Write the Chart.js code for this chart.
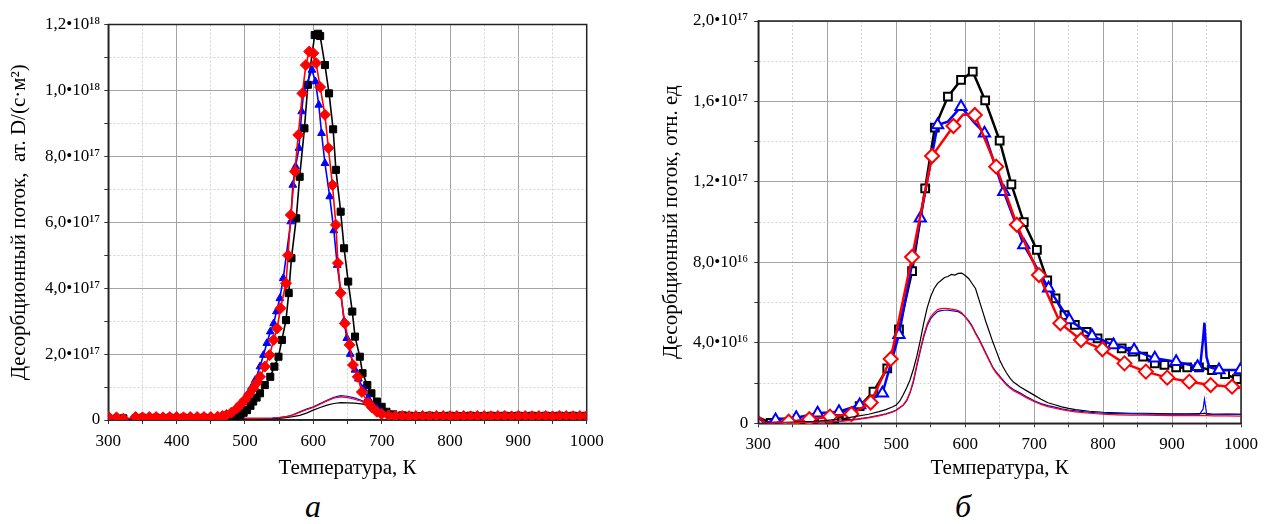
<!DOCTYPE html>
<html>
<head>
<meta charset="utf-8">
<script src="https://cdn.jsdelivr.net/npm/chart.js@4.4.0/dist/chart.umd.min.js"></script>
<style>
    body { margin: 0; background: #fff; width: 1265px; height: 524px; overflow: hidden; position: relative; }
    canvas { position: absolute; top: 0; }
    #chartA { left: 0; }
    #chartB { left: 640px; }
    .panel { position: absolute; top: 488px; font-family: 'Liberation Serif', serif; font-style: italic; font-size: 32px; line-height: 36px; transform: translateX(-50%); }
</style>
</head>
<body>
<canvas id="chartA" width="620" height="482"></canvas>
<canvas id="chartB" width="625" height="482"></canvas>
<div class="panel" style="left:313px">а</div>
<div class="panel" style="left:963px">б</div>
<script>
// ---- axes ----
const xTickValues = [300, 400, 500, 600, 700, 800, 900, 1000];
const leftYTickValues = [0, 2, 4, 6, 8, 10, 12];           // units of 1e17
const leftYTickLabels = ['0', '2,0•10¹⁷', '4,0•10¹⁷', '6,0•10¹⁷', '8,0•10¹⁷', '1,0•10¹⁸', '1,2•10¹⁸'];
const rightYTickValues = [0, 4, 8, 12, 16, 20];            // units of 1e16
const rightYTickLabels = ['0', '4,0•10¹⁶', '8,0•10¹⁶', '1,2•10¹⁷', '1,6•10¹⁷', '2,0•10¹⁷'];

// ---- chart а: [T, flux / 1e17] ----
const leftBlack = [[300,0.06],[310,0.03],[322,0.05],[330,null],[340,0.06],[350,0.07],[360,0.06],[370,0.07],[380,0.06],[390,0.07],
    [400,0.06],[410,0.07],[420,0.06],[430,0.06],[440,0.07],[450,0.06],[460,0.06],[470,0.06],[480,0.07],[487,0.10],[493,0.15],
    [498,0.22],[503,0.30],[508,0.43],[512,0.56],[517,0.68],[522,0.81],[529,1.06],[537,1.31],[543,1.62],[549,1.92],[554,2.43],
    [560,3.03],[564,3.85],[568,4.91],[575,6.12],[580,7.38],[587,8.85],[592,10.17],[602,11.68],[607,11.72],[610,11.65],[617,10.77],
    [623,9.91],[629,8.82],[633,7.59],[640,6.32],[645,5.21],[651,4.20],[657,3.29],[661,2.53],[668,1.92],[672,1.42],[679,1.06],
    [685,0.81],[693,0.56],[700,0.40],[707,0.25],[717,0.17],[730,0.14],[740,0.13],[750,0.12],[760,0.12],[770,0.13],[780,0.12],
    [790,0.12],[800,0.13],[810,0.12],[820,0.12],[830,0.13],[840,0.12],[850,0.12],[860,0.13],[870,0.12],[880,0.13],[890,0.12],
    [900,0.13],[910,0.12],[920,0.13],[930,0.12],[940,0.13],[950,0.12],[960,0.13],[970,0.12],[980,0.13],[990,0.12],[1000,0.13]];
const leftBlue = [[300,0.08],[310,0.05],[322,0.04],[330,null],[340,0.08],[350,0.08],[360,0.09],[370,0.08],[380,0.08],[390,0.09],
    [400,0.08],[410,0.08],[420,0.09],[430,0.08],[440,0.09],[450,0.10],[460,0.12],[468,0.13],[474,0.16],[481,0.20],[487,0.33],
    [493,0.46],[499,0.62],[505,0.81],[510,1.00],[515,1.21],[522,1.62],[527,1.97],[532,2.33],[537,2.68],[542,2.93],[546,3.29],
    [551,3.69],[556,4.30],[567,6.02],[570,7.13],[574,7.69],[579,8.25],[583,9.36],[586,9.96],[598,10.62],[603,10.27],[608,9.56],
    [612,8.70],[617,7.79],[624,6.78],[630,5.75],[635,4.70],[640,3.90],[645,3.00],[649,2.48],[654,2.00],[661,1.52],[666,1.25],
    [673,0.95],[680,0.66],[686,0.45],[693,0.35],[700,0.25],[710,0.18],[720,0.15],[730,0.13],[740,0.14],[750,0.13],[760,0.14],
    [770,0.13],[780,0.14],[790,0.13],[800,0.14],[810,0.13],[820,0.14],[830,0.13],[840,0.14],[850,0.13],[860,0.14],[870,0.13],
    [880,0.14],[890,0.13],[900,0.14],[910,0.13],[920,0.14],[930,0.13],[940,0.14],[950,0.13],[960,0.14],[970,0.13],[980,0.14],
    [990,0.13],[1000,0.14]];
const leftRed = [[300,0.10],[312,0.08],[322,0.04],[330,null],[340,0.09],[350,0.08],[360,0.09],[370,0.09],[380,0.08],[390,0.09],
    [400,0.09],[410,0.08],[420,0.09],[430,0.09],[440,0.09],[450,0.09],[460,0.10],[467,0.12],[473,0.15],[480,0.22],[488,0.35],
    [494,0.48],[500,0.61],[506,0.78],[512,0.96],[517,1.12],[522,1.31],[529,1.62],[536,1.97],[542,2.43],[547,2.78],[552,3.39],
    [560,4.15],[563,5.00],[567,6.22],[573,7.54],[578,8.65],[584,9.91],[589,10.77],[594,11.18],[600,11.13],[604,10.83],[610,10.10],
    [617,9.26],[622,8.25],[628,7.13],[633,5.92],[636,4.76],[640,3.85],[646,2.93],[653,2.28],[658,1.67],[665,1.31],[671,0.85],
    [680,0.52],[686,0.38],[693,0.25],[700,0.18],[710,0.14],[720,0.12],[730,0.12],[740,0.11],[750,0.12],[760,0.12],[770,0.11],
    [780,0.12],[790,0.12],[800,0.11],[810,0.12],[820,0.12],[830,0.11],[840,0.12],[850,0.12],[860,0.11],[870,0.12],[880,0.12],
    [890,0.11],[900,0.12],[910,0.12],[920,0.11],[930,0.12],[940,0.12],[950,0.11],[960,0.12],[970,0.12],[980,0.11],[990,0.12],
    [1000,0.12]];
const leftThinT = [300,350,400,450,500,520,540,550,560,570,580,590,600,610,620,630,640,650,660,670,680,690,700,710,720,740,760,800,850,900,950,1000];
const leftThinBlack = [0.03,0.03,0.03,0.03,0.03,0.03,0.04,0.05,0.07,0.10,0.14,0.21,0.30,0.38,0.45,0.50,0.53,0.52,0.51,0.49,0.45,0.38,0.30,0.22,0.18,0.15,0.13,0.12,0.12,0.12,0.12,0.12];
const leftThinBlue = [0.05,0.05,0.05,0.05,0.05,0.05,0.06,0.07,0.10,0.16,0.25,0.33,0.40,0.50,0.60,0.69,0.74,0.72,0.67,0.60,0.52,0.42,0.33,0.25,0.20,0.16,0.14,0.13,0.13,0.13,0.13,0.13];
const leftThinRed = [0.05,0.05,0.05,0.05,0.05,0.05,0.06,0.07,0.10,0.15,0.23,0.31,0.38,0.48,0.58,0.66,0.70,0.68,0.63,0.57,0.49,0.40,0.31,0.24,0.19,0.15,0.13,0.12,0.12,0.12,0.12,0.12];

// ---- chart б: [T, flux / 1e16]; *Marks carry symbols, *Line are line-only points ----
const rightBlackMarks = [[318,0.02],[336,0.05],[355,0.08],[373,0.10],[392,0.15],[410,0.25],[428,0.40],[447,0.85],[467,1.57],
    [487,2.73],[504,4.67],[523,7.56],[542,11.68],[556,14.70],[575,16.24],[594,17.07],[611,17.48],[629,16.05],[650,14.05],
    [667,11.88],[685,10.00],[704,8.62],[719,7.10],[731,6.21],[744,5.38],[759,4.89],[776,4.55],[792,4.22],[810,3.98],[827,3.73],
    [843,3.56],[858,3.31],[875,2.98],[889,2.90],[906,2.78],[922,2.78],[939,2.78],[958,2.65],[977,2.45],[994,2.20]];
const rightBlackLine = [[300,0.30],[1000,2.20]];
const rightBlueMarks = [[325,0.16],[355,0.28],[386,0.50],[417,0.58],[447,0.91],[480,1.49],[504,4.40],[535,10.19],[560,14.83],
    [594,15.74],[628,14.42],[656,11.51],[685,8.86],[721,6.71],[751,5.14],[784,4.34],[815,3.89],[845,3.64],[875,3.23],[906,3.06],
    [937,2.81],[968,2.65],[999,2.65]];
const rightBlueLine = [[300,0.30],[310,0.00],[575,15.00],[612,15.00],[941,2.90],[945,4.20],[947,5.00],[950,3.30],[954,2.80]];
const rightRedMarks = [[344,0.08],[374,0.20],[404,0.33],[435,0.46],[463,1.03],[492,3.20],[523,8.27],[552,13.29],[583,14.78],
    [614,15.33],[645,12.76],[675,9.87],[707,7.37],[738,4.97],[768,4.14],[799,3.68],[831,2.98],[862,2.57],[893,2.27],[925,2.07],
    [956,1.90],[987,1.82]];
const rightRedLine = [[300,0.35],[310,0.00],[597,15.35],[1000,1.75]];

const rightThinT = [300,305,310,320,340,360,380,400,420,440,460,475,485,495,
    500,505,510,515,520,525,530,535,540,545,550,555,560,565,570,575,580,585,590,595,
    600,605,610,615,620,625,630,635,640,645,650,655,660,665,670,
    680,690,700,710,720,730,740,750,760,
    780,800,820,840,860,880,900,920,940,
    945,947,950,960,980,1000];
const rightThinBlack = [0.35,0.12,0.00,0.03,0.05,0.07,0.10,0.15,0.22,0.33,0.45,0.58,0.68,0.82,
    0.91,1.10,1.41,1.75,2.15,2.70,3.35,4.14,5.00,5.75,6.30,6.70,6.96,7.10,7.25,7.30,7.40,7.37,7.45,7.47,
    7.35,7.20,6.95,6.70,6.15,5.60,5.05,4.55,4.05,3.60,3.15,2.80,2.50,2.25,2.05,
    1.80,1.60,1.40,1.20,1.02,0.92,0.82,0.74,0.68,
    0.60,0.55,0.52,0.50,0.50,0.48,0.47,0.47,0.48,
    0.48,0.50,0.46,0.45,0.46,0.45];
const rightThinBlue = [0.30,0.10,0.00,0.02,0.03,0.04,0.06,0.08,0.12,0.20,0.30,0.40,0.47,0.58,
    0.66,0.78,0.90,1.10,1.50,2.05,2.85,3.60,4.30,4.85,5.20,5.40,5.55,5.60,5.62,5.63,5.60,5.58,5.55,5.45,
    5.30,5.10,4.85,4.50,4.20,3.85,3.50,3.15,2.80,2.55,2.35,2.15,1.95,1.80,1.68,
    1.50,1.30,1.12,0.98,0.88,0.80,0.72,0.66,0.62,
    0.55,0.50,0.48,0.47,0.46,0.46,0.45,0.45,0.46,
    0.70,1.20,0.50,0.45,0.45,0.45];
const rightThinRed = [0.35,0.12,0.00,0.02,0.03,0.04,0.05,0.07,0.10,0.17,0.27,0.37,0.45,0.56,
    0.64,0.76,0.90,1.15,1.55,2.15,2.95,3.70,4.40,4.95,5.30,5.50,5.65,5.70,5.72,5.70,5.68,5.65,5.60,5.50,
    5.30,5.05,4.80,4.45,4.15,3.80,3.45,3.10,2.75,2.50,2.30,2.10,1.90,1.75,1.62,
    1.45,1.25,1.08,0.94,0.83,0.75,0.68,0.62,0.57,
    0.50,0.45,0.42,0.40,0.40,0.39,0.38,0.38,0.38,
    0.38,0.38,0.38,0.37,0.37,0.36];

const SERIF = "'Liberation Serif', 'Times New Roman', serif";
Chart.defaults.font.family = SERIF;
Chart.defaults.color = '#000';

const pairs = (list) => list.map(([x, y]) => ({ x, y }));
const zip = (xs, ys) => xs.map((x, i) => ({ x, y: ys[i] }));
const withMarks = (marks, line) => marks.map(([x, y]) => ({ x, y, m: true }))
    .concat(line.map(([x, y]) => ({ x, y, m: false })))
    .sort((a, b) => a.x - b.x);

const frame = {
    id: 'frame',
    beforeDatasetsDraw(chart) {
        const { ctx, chartArea: a } = chart;
        ctx.save();
        ctx.strokeStyle = '#222';
        ctx.lineWidth = 1.5;
        ctx.strokeRect(a.left, a.top, a.right - a.left, a.bottom - a.top);
        ctx.restore();
    }
};

const isMajor = (v, step) => Math.abs(v / step - Math.round(v / step)) < 1e-6;

const makeOptions = (cfg) => ({
    responsive: false,
    animation: false,
    events: [],
    layout: { padding: { left: 0, right: cfg.padRight, top: cfg.padTop, bottom: 0 } },
    plugins: { legend: { display: false }, tooltip: { enabled: false } },
    scales: {
        x: {
            type: 'linear', min: 300, max: 1000,
            afterFit: (s) => { s.height = cfg.xHeight; },
            ticks: {
                stepSize: 50, autoSkip: false, maxRotation: 0, padding: 7,
                font: { size: 17 },
                callback: (v) => xTickValues.includes(v) ? String(v) : ''
            },
            grid: {
                tickLength: 4, tickColor: '#333',
                color: (c) => c.tick && isMajor(c.tick.value, 100) ? '#a3a3a3' : '#d2d2d2'
            },
            border: {
                color: '#222', width: 1.5,
                dash: (c) => c.tick && !isMajor(c.tick.value, 100) ? [2, 2] : []
            },
            title: { display: true, text: 'Температура, К', font: { size: 21 }, padding: { top: 0, bottom: 1 } }
        },
        y: {
            min: 0, max: cfg.yMax,
            afterFit: (s) => { s.width = cfg.yWidth; },
            ticks: {
                stepSize: cfg.yStep, autoSkip: false, padding: cfg.yTickPad,
                font: { size: 17 },
                callback: (v) => {
                    const i = cfg.yVals.indexOf(v);
                    return i >= 0 ? cfg.yLabels[i] : '';
                }
            },
            grid: {
                tickLength: 4, tickColor: '#333',
                color: (c) => c.tick && isMajor(c.tick.value, cfg.yMajor) ? '#a3a3a3' : '#d2d2d2'
            },
            border: {
                color: '#222', width: 1.5,
                dash: (c) => c.tick && !isMajor(c.tick.value, cfg.yMajor) ? [2, 2] : []
            },
            title: { display: true, text: cfg.yTitle, font: { size: 21 }, padding: { top: cfg.yTitlePad, bottom: 0 } }
        }
    }
});

const filled = (data, color, style, r) => ({
    data, borderColor: color, backgroundColor: color, borderWidth: 1.6,
    pointStyle: style, pointRadius: r, pointBorderWidth: 1, pointHoverRadius: r
});
const thin = (data, color) => ({
    data, borderColor: color, borderWidth: 1.2, pointRadius: 0
});
const open = (data, color, style, r) => ({
    data, borderColor: color, backgroundColor: '#fff', borderWidth: 2.5,
    pointStyle: style, pointBorderWidth: 2,
    pointRadius: (c) => c.raw && c.raw.m ? r : 0
});

new Chart(document.getElementById('chartA'), {
    type: 'line',
    data: {
        datasets: [
            filled(pairs(leftRed), '#ff0000', 'rectRot', 5.5),
            filled(pairs(leftBlue), '#0000ff', 'triangle', 4.5),
            filled(pairs(leftBlack), '#000000', 'rect', 5),
            thin(zip(leftThinT, leftThinRed), '#ff0000'),
            thin(zip(leftThinT, leftThinBlue), '#0000ff'),
            thin(zip(leftThinT, leftThinBlack), '#000000')
        ]
    },
    options: makeOptions({
        padRight: 33.3, padTop: 24.5, xHeight: 62, yWidth: 108.3, yTickPad: 4, yTitlePad: 7,
        yMax: 12, yStep: 1, yMajor: 2, yVals: leftYTickValues, yLabels: leftYTickLabels,
        yTitle: 'Десорбционный поток,  ат. D/(с·м²)'
    }),
    plugins: [frame]
});

new Chart(document.getElementById('chartB'), {
    type: 'line',
    data: {
        datasets: [
            thin(zip(rightThinT, rightThinRed), '#ff0000'),
            thin(zip(rightThinT, rightThinBlue), '#0000ff'),
            thin(zip(rightThinT, rightThinBlack), '#000000'),
            open(withMarks(rightRedMarks, rightRedLine), '#ff0000', 'rectRot', 7),
            open(withMarks(rightBlueMarks, rightBlueLine), '#0000ff', 'triangle', 6.5),
            open(withMarks(rightBlackMarks, rightBlackLine), '#000000', 'rect', 5.5)
        ]
    },
    options: makeOptions({
        padRight: 19.3, padTop: 21, xHeight: 58.7, yWidth: 118.3, yTickPad: 6, yTitlePad: 19,
        yMax: 20, yStep: 2, yMajor: 4, yVals: rightYTickValues, yLabels: rightYTickLabels,
        yTitle: 'Десорбционный поток, отн. ед'
    }),
    plugins: [frame]
});
</script>
</body>
</html>
